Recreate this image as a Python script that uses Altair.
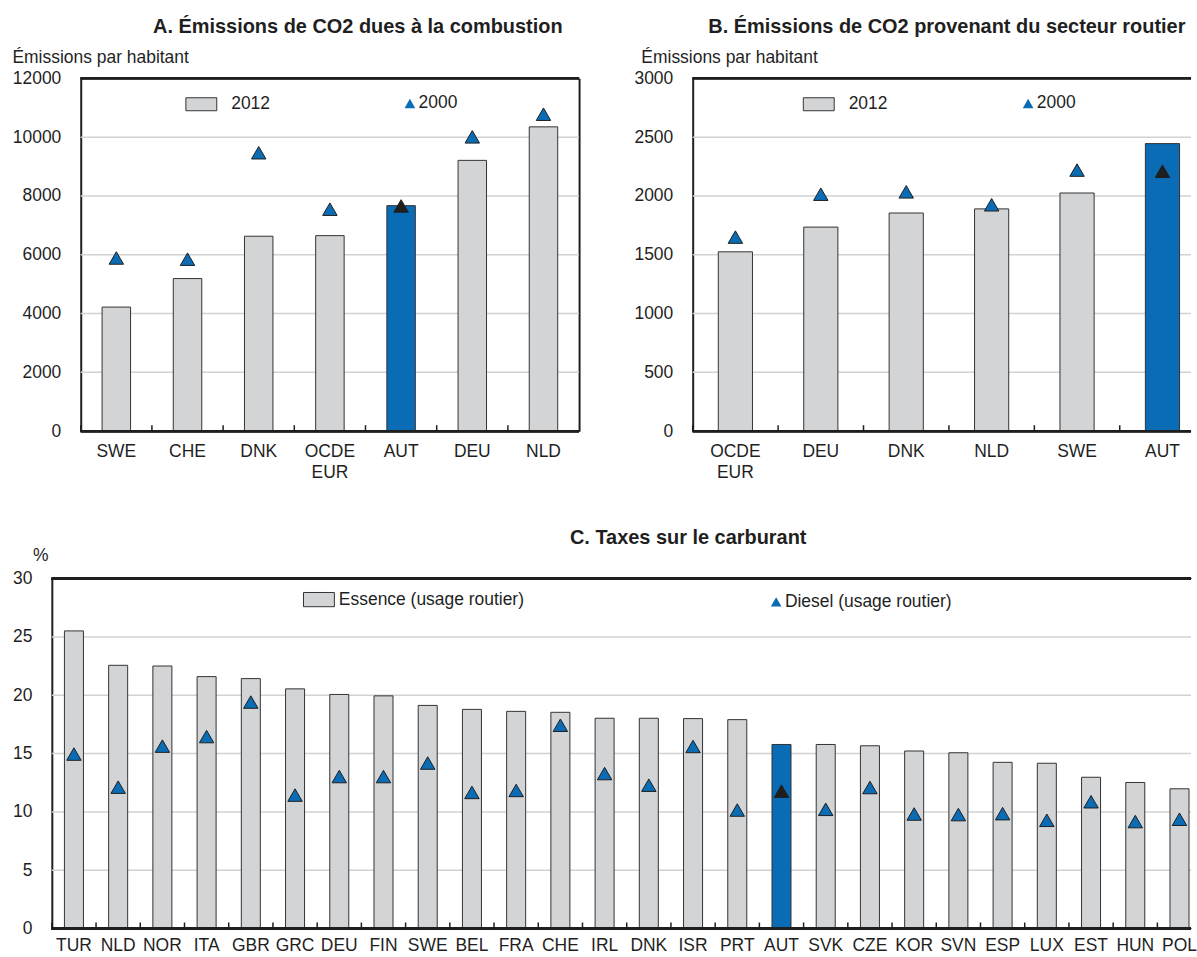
import altair as alt
import pandas as pd

# ---- data -------------------------------------------------------------
# Panel A: CO2 emissions from fuel combustion, per capita
a_pays = ["SWE", "CHE", "DNK", "OCDE EUR", "AUT", "DEU", "NLD"]
a_2012 = [4220, 5190, 6630, 6650, 7670, 9210, 10350]
a_2000 = [5890, 5850, 9470, 7550, 7660, 10010, 10780]
a_ticks = [0, 2000, 4000, 6000, 8000, 10000, 12000]

# Panel B: CO2 emissions from road transport, per capita
b_pays = ["OCDE EUR", "DEU", "DNK", "NLD", "SWE", "AUT"]
b_2012 = [1525, 1735, 1855, 1890, 2025, 2445]
b_2000 = [1650, 2015, 2035, 1925, 2220, 2210]
b_ticks = [0, 500, 1000, 1500, 2000, 2500, 3000]

# Panel C: fuel taxes, %
c_pays = ["TUR", "NLD", "NOR", "ITA", "GBR", "GRC", "DEU", "FIN", "SWE", "BEL",
          "FRA", "CHE", "IRL", "DNK", "ISR", "PRT", "AUT", "SVK", "CZE", "KOR",
          "SVN", "ESP", "LUX", "EST", "HUN", "POL"]
c_essence = [25.52, 22.57, 22.51, 21.60, 21.43, 20.55, 20.07, 19.95, 19.13, 18.79,
             18.62, 18.54, 18.03, 18.03, 18.00, 17.91, 15.78, 15.78, 15.67, 15.22,
             15.07, 14.25, 14.17, 12.97, 12.52, 11.98]
c_diesel = [14.96, 12.12, 15.64, 16.46, 19.42, 11.44, 13.03, 13.03, 14.19, 11.67,
            11.84, 17.43, 13.29, 12.29, 15.61, 10.16, 11.78, 10.22, 12.09, 9.82,
            9.77, 9.85, 9.28, 10.87, 9.17, 9.37]
c_ticks = [0, 5, 10, 15, 20, 25, 30]

FONT = "Liberation Sans"
BLUE = "#0a6cb5"
GRAY = "#d3d4d6"
GRID = "#d2d2d2"
DARK = "#1f1f1f"
FS = 17.5


def panel(pays, v_bar, v_tri, s_bar, s_tri, ticks_y, width, height, lead,
          step, p_in, title, title_dx, title_offset, ytitle, ytitle_x,
          ytitle_y, xlab_pad, leg_bar, leg_tri, rect_half, right_frame):
    """One framed panel: bars, triangles, frame, grid and boundary ticks.

    The frame starts `lead` pixels right of the panel origin; the band
    scale is padded/aligned so every category occupies `step` pixels.
    """
    df = pd.DataFrame({"pays": pays, "v_bar": v_bar, "v_tri": v_tri,
                       "s_bar": s_bar, "s_tri": s_tri})
    grid_df = pd.DataFrame({"g": ticks_y})
    n = len(pays)
    p_out = (width / step - n + p_in) / 2
    align = (lead + step * p_in / 2) / (width - step * (n - p_in))
    gap = step * p_in

    xscale = alt.Scale(paddingInner=p_in, paddingOuter=p_out, align=align)
    yscale = alt.Scale(domain=[ticks_y[0], ticks_y[-1]], nice=False, zero=True)

    grid = alt.Chart(grid_df).mark_rule(color=GRID, strokeWidth=1.5).encode(
        y=alt.Y("g:Q", scale=yscale, axis=None),
        x=alt.value(lead), x2=alt.value(width),
    )

    base = alt.Chart(df)

    bars = base.mark_bar(stroke="#333333", strokeWidth=1).encode(
        x=alt.X("pays:N", sort=pays, scale=xscale,
                axis=alt.Axis(orient="bottom", title=None, labelAngle=0,
                              ticks=False, domain=False, labelPadding=xlab_pad,
                              labelExpr="split(datum.label, ' ')",
                              labelLineHeight=21.5, labelOverlap=False)),
        y=alt.Y("v_bar:Q", scale=yscale,
                axis=alt.Axis(orient="left", values=ticks_y, format="d",
                              grid=False, ticks=False, domain=True,
                              domainColor=DARK, domainWidth=2,
                              offset=-lead, labelPadding=20,
                              title=ytitle, titleAngle=0, titleAlign="left",
                              titleBaseline="alphabetic", titleX=ytitle_x,
                              titleY=ytitle_y, titleFontWeight="normal")),
        fill=alt.condition(
            alt.datum.pays == "AUT", alt.value(BLUE),
            alt.Fill("s_bar:N", scale=alt.Scale(range=[GRAY]),
                     legend=alt.Legend(
                         title=None, orient="none", legendX=leg_bar[0],
                         legendY=leg_bar[1], direction="horizontal",
                         symbolType=f"M-1,-{rect_half}H1V{rect_half}H-1Z",
                         symbolSize=961, symbolStrokeColor="#333333",
                         symbolStrokeWidth=1, labelOffset=leg_bar[2],
                         labelLimit=400, padding=0))),
    )

    tris = base.mark_point(filled=True, size=210, stroke=DARK, strokeWidth=1,
                           opacity=1).encode(
        x=alt.X("pays:N", sort=pays, scale=xscale, axis=None),
        y=alt.Y("v_tri:Q", scale=yscale,
                axis=(alt.Axis(orient="right", title=None, labels=False,
                               ticks=False, grid=False, domain=True,
                               domainColor=DARK, domainWidth=2)
                      if right_frame else None)),
        shape=alt.Shape("s_tri:N", scale=alt.Scale(range=["triangle-up"]),
                        legend=alt.Legend(
                            title=None, orient="none", legendX=leg_tri[0],
                            legendY=leg_tri[1], direction="horizontal",
                            symbolSize=115, symbolFillColor=BLUE,
                            symbolStrokeColor=DARK, symbolStrokeWidth=1,
                            labelOffset=leg_tri[2], labelLimit=400,
                            padding=0)),
        fill=alt.condition(alt.datum.pays == "AUT", alt.value(DARK),
                           alt.value(BLUE)),
    )

    # top and bottom edges of the frame
    frame_top = base.mark_rule(color=DARK, strokeWidth=2).encode(
        x=alt.value(lead), x2=alt.value(width), y=alt.value(0))
    frame_bottom = base.mark_rule(color=DARK, strokeWidth=2).encode(
        x=alt.value(lead), x2=alt.value(width), y=alt.value(height))

    # small inward ticks on the category boundaries
    ticks = base.mark_rule(color=DARK, strokeWidth=1.5, xOffset=-gap / 2).encode(
        x=alt.X("pays:N", sort=pays, scale=xscale, bandPosition=0, axis=None),
        y=alt.value(height), y2=alt.value(height - 6),
    )

    return alt.layer(grid, bars, tris, frame_top, frame_bottom, ticks).resolve_axis(
        x="independent", y="independent"
    ).properties(
        width=width, height=height,
        title=alt.TitleParams(title, anchor="middle", frame="group",
                              dx=title_dx, offset=title_offset,
                              baseline="alphabetic"),
    )


A = panel(a_pays, a_2012, a_2000, ["2012"] * 7, ["2000"] * 7, a_ticks,
          529, 354, 29, 71.43, 0.6,
          "A. Émissions de CO2 dues à la combustion", 42.5, -5,
          "Émissions par habitant", -69, -16, 11,
          (134, 10, 14), (350.5, 16.5, 0), 0.42, True)

B = panel(b_pays, b_2012, b_2000, ["2012"] * 6, ["2000"] * 6, b_ticks,
          500, 354, 0, 85.7, 0.6,
          "B. Émissions de CO2 provenant du secteur routier", 5, -5,
          "Émissions par habitant", -52, -16, 11,
          (110.5, 10, 14), (327.8, 16.5, 0), 0.42, False)

C = panel(c_pays, c_essence, c_diesel,
          ["Essence (usage routier)"] * 26, ["Diesel (usage routier)"] * 26,
          c_ticks, 1143, 351, 0, 44.37, 0.57,
          "C. Taxes sur le carburant", 67, -17,
          "%", -19.5, -18, 8,
          (252, 5, 4), (718, 14.5, 0), 0.46, False)

chart = alt.vconcat(
    alt.hconcat(A, B, spacing=54).resolve_scale(fill="independent",
                                                 shape="independent"),
    C, spacing=47
).resolve_scale(
    fill="independent", shape="independent"
).properties(
    padding={"left": 12, "top": 16, "right": 0, "bottom": 0}
).configure_view(
    stroke=None
).configure_axis(
    labelFont=FONT, labelFontSize=FS, labelColor=DARK,
    titleFont=FONT, titleFontSize=FS, titleColor=DARK,
).configure_legend(
    labelFont=FONT, labelFontSize=FS, labelColor=DARK,
).configure_title(
    font=FONT, fontSize=20, fontWeight="bold", color=DARK,
)

chart.save("out.html", embed_options={"renderer": "svg", "actions": False})
